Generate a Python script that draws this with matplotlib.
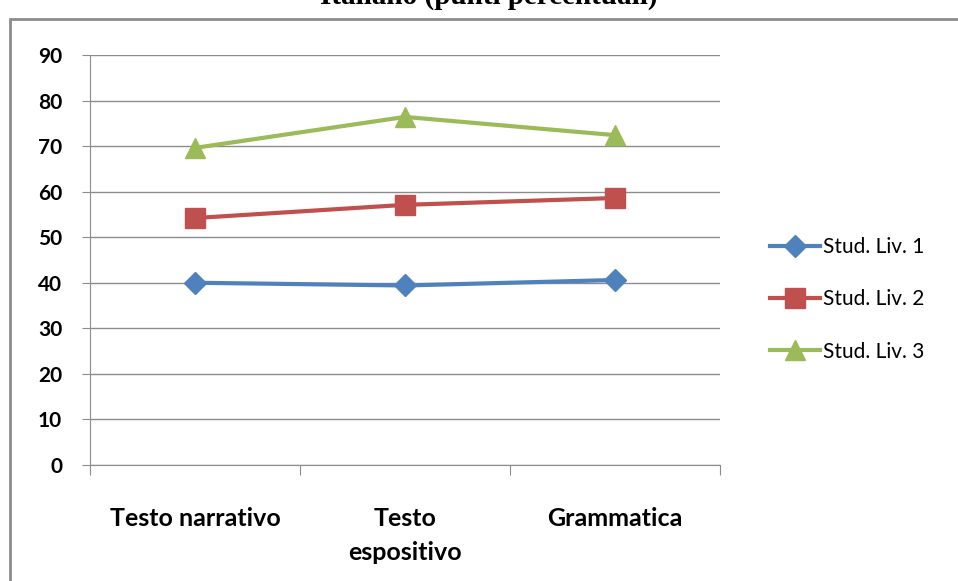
import matplotlib
matplotlib.use('Agg')
import matplotlib.pyplot as plt
from matplotlib.patches import Rectangle

categories = ['Testo narrativo', 'Testo\nespositivo', 'Grammatica']
liv1 = [40.0, 39.4, 40.6]
liv2 = [54.2, 57.1, 58.6]
liv3 = [69.6, 76.4, 72.4]
labels = ['Stud. Liv. 1', 'Stud. Liv. 2', 'Stud. Liv. 3']
yticks = [0, 10, 20, 30, 40, 50, 60, 70, 80, 90]

plt.rcParams['font.family'] = ['Lato', 'DejaVu Sans']

fig = plt.figure(figsize=(9.58, 5.81), dpi=100)
ax = fig.add_axes([0.0939, 0.1997, 0.6576, 0.7057])

# outer chart frame
fig.patches.append(Rectangle((10/958, -0.1), 1.2, 1 - 19/581 + 0.1, transform=fig.transFigure,
                             fill=False, edgecolor='#8c8c8c', linewidth=2, clip_on=False))

x = range(len(categories))
ax.plot(x, liv1, color='#4F81BD', lw=3, marker='D', ms=11, label=labels[0])
ax.plot(x, liv2, color='#C0504D', lw=3, marker='s', ms=14, label=labels[1])
ax.plot(x, liv3, color='#9BBB59', lw=3, marker='^', ms=15, label=labels[2])

ax.set_xlim(-0.5, 2.5)
ax.set_ylim(0, 90)
ax.set_yticks(yticks)
ax.set_yticklabels([str(v) for v in yticks], fontsize=15, fontweight='bold')
ax.set_xticks([-0.5, 0.5, 1.5, 2.5])
ax.set_xticklabels([])
ax.set_xticks(list(x), minor=True)
ax.set_xticklabels(categories, minor=True, fontsize=18, fontweight='bold', linespacing=1.6)
ax.tick_params(axis='x', which='minor', length=0, pad=30)
ax.tick_params(axis='x', which='major', length=7, color='#8c8c8c', direction='out')
ax.tick_params(axis='y', length=6, color='#8c8c8c', pad=14)
ax.grid(axis='y', color='#8c8c8c', lw=1)
ax.set_axisbelow(True)
for s in ['top', 'right']:
    ax.spines[s].set_visible(False)
ax.spines['left'].set_color('#8c8c8c')
ax.spines['bottom'].set_color('#8c8c8c')

ax.legend(loc='center left', bbox_to_anchor=(1.05, 0.404), frameon=False, fontsize=15,
          handlelength=2.4, labelspacing=1.55, handletextpad=0.15)

fig.text(0.51, 1 - 4/581, 'Italiano (punti percentuali)', ha='center', va='baseline',
         fontsize=21, fontweight='bold', family='Liberation Serif')

fig.savefig('out.png', dpi=100)
